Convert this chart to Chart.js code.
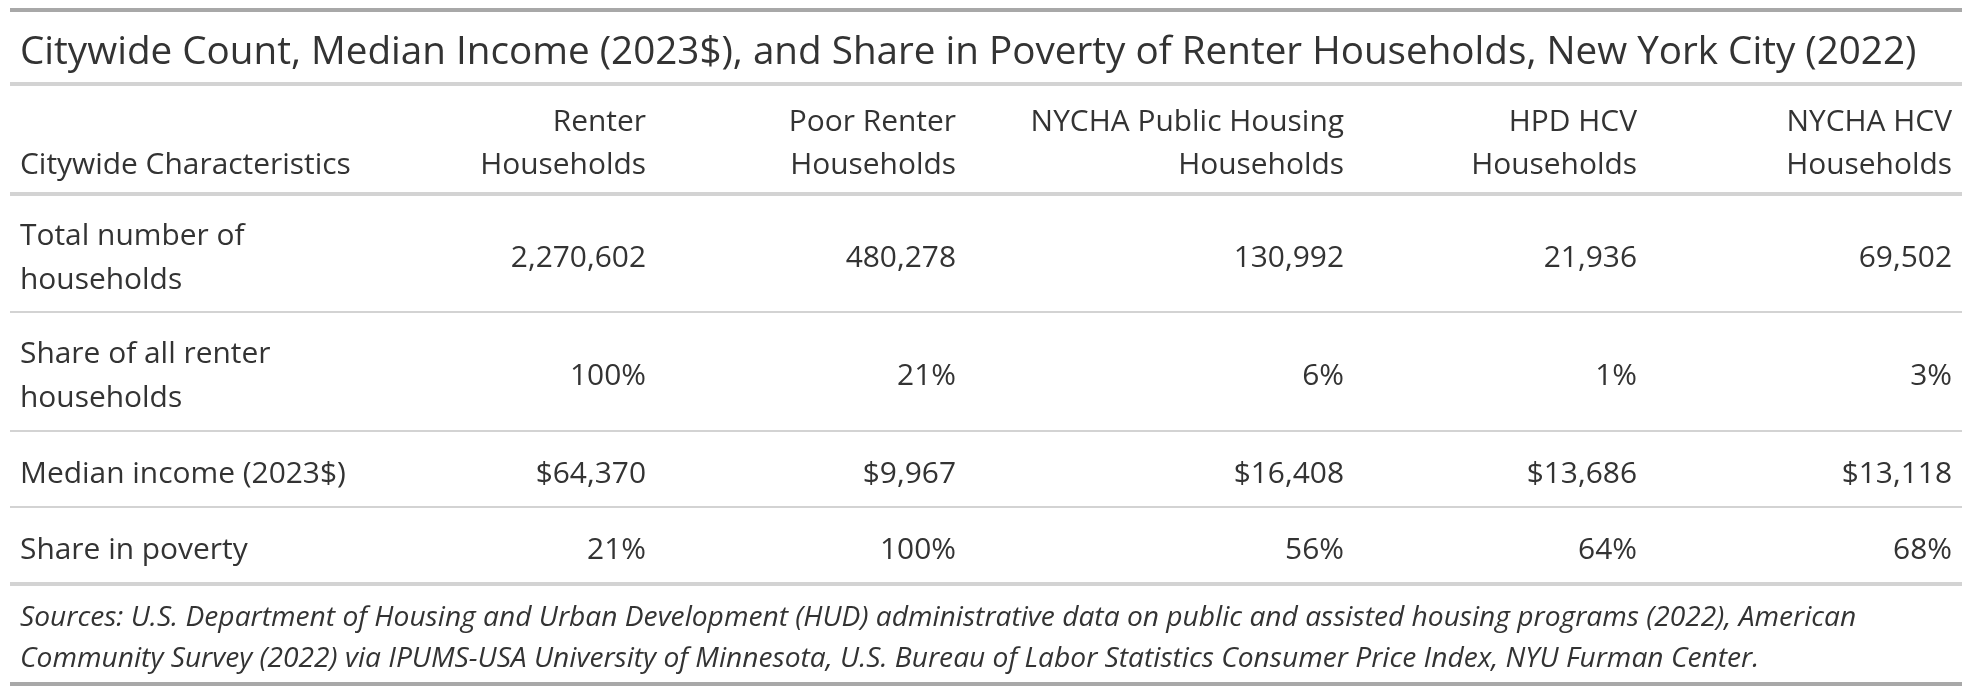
<!DOCTYPE html>
<html>
<head>
<meta charset="utf-8">
<title>Renter Households, New York City (2022)</title>
<script src="https://cdn.jsdelivr.net/npm/chart.js@4.4.1/dist/chart.umd.min.js"></script>
<style>
  html, body { margin: 0; padding: 0; background: #fff; }
  #wrap { width: 1972px; height: 694px; position: relative; }
</style>
</head>
<body>
<div id="wrap"><canvas id="tbl"></canvas></div>
<script>
// --- table content ---
const TITLE = 'Citywide Count, Median Income (2023$), and Share in Poverty of Renter Households, New York City (2022)';
const STUB_HEAD = 'Citywide Characteristics';
const COLUMNS = [
  ['Renter', 'Households'],
  ['Poor Renter', 'Households'],
  ['NYCHA Public Housing', 'Households'],
  ['HPD HCV', 'Households'],
  ['NYCHA HCV', 'Households']
];
const ROW_LABELS = [
  ['Total number of', 'households'],
  ['Share of all renter', 'households'],
  ['Median income (2023$)'],
  ['Share in poverty']
];
const TOTAL_HOUSEHOLDS = [2270602, 480278, 130992, 21936, 69502];
const SHARE_OF_RENTERS = [100, 21, 6, 1, 3];     // %
const MEDIAN_INCOME = [64370, 9967, 16408, 13686, 13118]; // 2023$
const SHARE_IN_POVERTY = [21, 100, 56, 64, 68];  // %
const SOURCES = [
  'Sources: U.S. Department of Housing and Urban Development (HUD) administrative data on public and assisted housing programs (2022), American',
  'Community Survey (2022) via IPUMS-USA University of Minnesota, U.S. Bureau of Labor Statistics Consumer Price Index, NYU Furman Center.'
];

// how each row is printed
const fmtNum = v => v.toLocaleString('en-US');
const fmtPct = v => v + '%';
const fmtUsd = v => '$' + v.toLocaleString('en-US');
const ROWS = [
  { values: TOTAL_HOUSEHOLDS, fmt: fmtNum },
  { values: SHARE_OF_RENTERS, fmt: fmtPct },
  { values: MEDIAN_INCOME, fmt: fmtUsd },
  { values: SHARE_IN_POVERTY, fmt: fmtPct }
];

// --- layout (canvas units, y grows downward) ---
const W = 1972, H = 694;
const TABLE_LEFT = 10, TABLE_RIGHT = 1962;
const TEXT_LEFT = 20;
const COL_RIGHT = [646, 956, 1344, 1637, 1952];
const TITLE_BAND = [12, 82];
const HEAD_BAND = [86, 192];
const ROW_BANDS = [[196, 311], [313, 430], [432, 506], [508, 582]];
const NOTE_BAND = [586, 682];
const RULES = [ // y centre, thickness, colour
  [10, 4, '#a8a8a8'], [84, 4, '#d3d3d3'], [194, 4, '#d3d3d3'],
  [312, 2, '#d3d3d3'], [431, 2, '#d3d3d3'], [507, 2, '#d3d3d3'],
  [584, 4, '#d3d3d3'], [684, 4, '#a8a8a8']
];
const FAMILY = '"Open Sans", "Noto Sans", sans-serif';
const INK = '#333333';
const LINE_GAP = 44, HEAD_GAP = 43, NOTE_GAP = 41;

const mid = b => (b[0] + b[1]) / 2;

// fit a font size so the given text spans the width seen in the reference
function fitSize(ctx, text, target, style) {
  ctx.font = `${style} 100px ${FAMILY}`;
  return 100 * target / ctx.measureText(text).width;
}

const tablePlugin = {
  id: 'tableText',
  afterDatasetsDraw(chart) {
    const ctx = chart.ctx;
    const xs = chart.scales.x, ys = chart.scales.y;
    const px = v => xs.getPixelForValue(v);
    const py = v => ys.getPixelForValue(v);

    ctx.save();
    // rules
    RULES.forEach(([y, t, c]) => {
      ctx.fillStyle = c;
      ctx.fillRect(px(TABLE_LEFT), py(y - t / 2), px(TABLE_RIGHT) - px(TABLE_LEFT), t);
    });

    const titleSize = fitSize(ctx, TITLE, 1897, 'normal');
    const bodySize = fitSize(ctx, STUB_HEAD, 331, 'normal');
    const noteSize = fitSize(ctx, SOURCES[0], 1837, 'italic');
    const drop = s => s * 0.36 + 3; // baseline offset from the band centre

    ctx.fillStyle = INK;
    ctx.textBaseline = 'alphabetic';

    // title
    ctx.font = `normal ${titleSize}px ${FAMILY}`;
    ctx.textAlign = 'left';
    ctx.fillText(TITLE, px(TEXT_LEFT), py(mid(TITLE_BAND)) + drop(titleSize));

    // column heads
    ctx.font = `normal ${bodySize}px ${FAMILY}`;
    const hm = py(mid(HEAD_BAND)) + drop(bodySize);
    ctx.fillText(STUB_HEAD, px(TEXT_LEFT), hm + HEAD_GAP / 2);
    ctx.textAlign = 'right';
    COLUMNS.forEach((lines, i) => {
      lines.forEach((s, k) => {
        ctx.fillText(s, px(COL_RIGHT[i]), hm + (k - (lines.length - 1) / 2) * HEAD_GAP);
      });
    });

    // stub labels
    ctx.textAlign = 'left';
    ROW_LABELS.forEach((lines, r) => {
      const m = py(mid(ROW_BANDS[r])) + drop(bodySize);
      lines.forEach((s, k) => {
        ctx.fillText(s, px(TEXT_LEFT), m + (k - (lines.length - 1) / 2) * LINE_GAP);
      });
    });

    // cell values, placed at each dataset point
    ctx.textAlign = 'right';
    ROWS.forEach((row, r) => {
      chart.getDatasetMeta(r).data.forEach((el, i) => {
        ctx.fillText(row.fmt(row.values[i]), el.x, el.y + drop(bodySize));
      });
    });

    // sources
    ctx.font = `italic ${noteSize}px ${FAMILY}`;
    ctx.textAlign = 'left';
    const nm = py(mid(NOTE_BAND)) + drop(noteSize) - 1;
    SOURCES.forEach((s, k) => {
      ctx.fillText(s, px(TEXT_LEFT), nm + (k - (SOURCES.length - 1) / 2) * NOTE_GAP);
    });
    ctx.restore();
  }
};

const datasets = ROWS.map((row, r) => ({
  label: ROW_LABELS[r].join(' '),
  data: row.values.map((v, i) => ({ x: COL_RIGHT[i], y: mid(ROW_BANDS[r]) })),
  pointRadius: 0,
  showLine: false
}));

new Chart(document.getElementById('tbl'), {
  type: 'scatter',
  data: { datasets },
  options: {
    responsive: true,
    maintainAspectRatio: false,
    animation: false,
    events: [],
    layout: { padding: 0 },
    plugins: { legend: { display: false }, tooltip: { enabled: false } },
    scales: {
      x: { type: 'linear', min: 0, max: W, display: false },
      y: { type: 'linear', min: 0, max: H, reverse: true, display: false }
    }
  },
  plugins: [tablePlugin]
});
</script>
</body>
</html>
